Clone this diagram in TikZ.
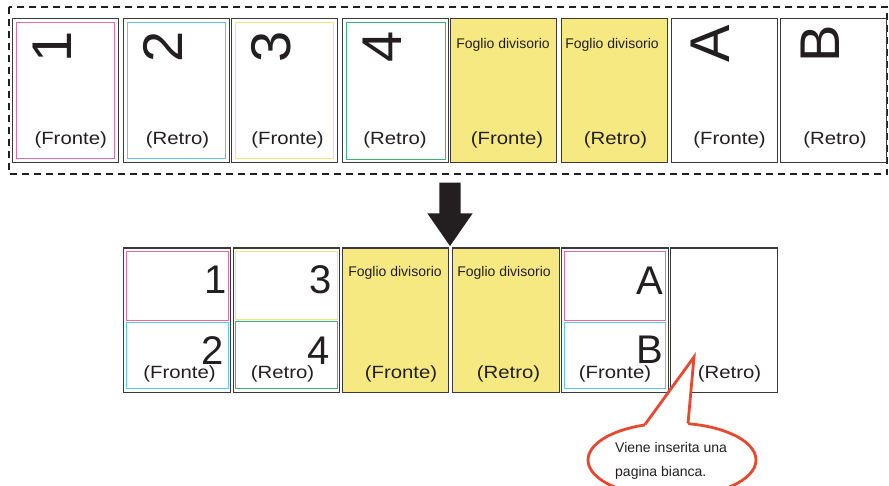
\documentclass[tikz,border=0pt]{standalone}
\usepackage{fontspec}
\setmainfont{Liberation Sans}
\newfontfamily\labfont[FakeStretch=1.15]{Liberation Sans}
\usetikzlibrary{shapes.geometric,calc}
\definecolor{pagegray}{HTML}{3A3A3A}
\definecolor{cpink}{HTML}{E96AA6}
\definecolor{ccyan}{HTML}{5CC8F0}
\definecolor{cyel}{HTML}{F1E780}
\definecolor{cgreen}{HTML}{3DB56E}
\definecolor{divfill}{HTML}{F6E981}
\definecolor{callred}{HTML}{E8482E}
\definecolor{arrowblk}{HTML}{231F20}
\tikzset{
  page/.style={draw=pagegray, line width=1.1pt, anchor=north west, minimum width=106pt, minimum height=144pt, inner sep=0pt, fill=white},
  divpage/.style={page, fill=divfill},
  innerbox/.style={draw=#1, line width=1.1pt, inner sep=0pt, anchor=north west},
  toplabel/.style={font=\labfont\fontsize{17.7}{20}\selectfont, anchor=base, inner sep=0pt, text=arrowblk},
  divlabel/.style={font=\fontsize{14}{16}\selectfont, anchor=base, inner sep=0pt, text=arrowblk},
  rotdigit/.style={font=\fontsize{56}{60}\selectfont, rotate=90, anchor=base west, inner sep=0pt, text=arrowblk},
  bigdigit/.style={font=\fontsize{40}{44}\selectfont, anchor=base east, inner sep=0pt, text=arrowblk},
  calltext/.style={font=\fontsize{14}{16}\selectfont, anchor=base west, inner sep=0pt, text=arrowblk},
}
\begin{document}
\begin{tikzpicture}[x=1pt,y=-1pt]
\useasboundingbox (0,0) rectangle (889,486);
\fill[white] (0,0) rectangle (889,486);
% dashed frame
\draw[arrowblk, line width=2pt, dash pattern=on 7pt off 5pt] (9,7) rectangle (887,174.5);
% ---------- top row ----------
\node[page] (t1) at (12.3,18.3) {};
\node[innerbox=cpink, minimum width=98pt, minimum height=136pt] (t1i) at (16.3,22.3) {};
\node[page] (t2) at (123.3,18.3) {};
\node[innerbox=ccyan, minimum width=98pt, minimum height=136pt] (t2i) at (127.3,22.3) {};
\node[page] (t3) at (231.3,18.3) {};
\node[innerbox=cyel, minimum width=98pt, minimum height=136pt] (t3i) at (235.3,22.3) {};
\node[page] (t4) at (342.3,18.3) {};
\node[innerbox=cgreen, minimum width=99pt, minimum height=137pt] (t4i) at (345.8,21.8) {};
\node[divpage] (t5) at (450.3,18.3) {};
\node[divpage] (t6) at (561,18.3) {};
\node[page] (t7) at (670.7,18.3) {};
\node[page] (t8) at (780,18.3) {};
% rotated big characters
\node[rotdigit] (d1) at (71.3,63) {1};
\node[rotdigit] (d2) at (182.3,63) {2};
\node[rotdigit] (d3) at (290.3,63) {3};
\node[rotdigit] (d4) at (401.3,63) {4};
\node[rotdigit] (dA) at (729.2,63) {A};
\node[rotdigit] (dB) at (839.5,63) {B};
% foglio divisorio
\node[divlabel] (f5) at (503,48.3) {Foglio divisorio};
\node[divlabel] (f6) at (612,48.3) {Foglio divisorio};
% labels
\node[toplabel] (l1) at (70.7,144.5) {(Fronte)};
\node[toplabel] (l2) at (177.5,144.5) {(Retro)};
\node[toplabel] (l3) at (287.5,144.5) {(Fronte)};
\node[toplabel] (l4) at (395,144.5) {(Retro)};
\node[toplabel] (l5) at (507,144.5) {(Fronte)};
\node[toplabel] (l6) at (615.5,144.5) {(Retro)};
\node[toplabel] (l7) at (729.5,144.5) {(Fronte)};
\node[toplabel] (l8) at (835,144.5) {(Retro)};
% ---------- big arrow ----------
\coordinate (atop) at (450,182.7);
\coordinate (atip) at (450,246);
\fill[arrowblk] ($(atop)+(-10.7,0)$) -- ($(atop)+(10.7,0)$) -- (460.7,213.3) -- (472.7,213.3) -- (atip) -- (427.3,213.3) -- (439.3,213.3) -- cycle;
% ---------- bottom row ----------
\node[page, minimum width=106.7pt] (b1) at (123.3,247.5) {};
\node[innerbox=cpink, minimum width=101.5pt, minimum height=69.3pt] (b1a) at (126,250.7) {};
\node[innerbox=ccyan, minimum width=101.5pt, minimum height=66.6pt] (b1b) at (126,321.7) {};
\node[page, minimum width=106.3pt] (b2) at (232.7,247.5) {};
\node[innerbox=cyel, minimum width=101.4pt, minimum height=68.6pt] (b2a) at (235.3,250.7) {};
\node[innerbox=cgreen, minimum width=101.4pt, minimum height=67.3pt] (b2b) at (235.3,321) {};
\node[divpage, minimum width=106pt] (b3) at (342.3,247.5) {};
\node[divpage, minimum width=106.7pt] (b4) at (452.3,247.5) {};
\node[page, minimum width=106.4pt] (b5) at (561.3,247.5) {};
\node[innerbox=cpink, minimum width=100.7pt, minimum height=69pt] (b5a) at (564,251) {};
\node[innerbox=ccyan, minimum width=100.7pt, minimum height=66.3pt] (b5b) at (564,322) {};
\node[page, minimum width=106.7pt] (b6) at (670,247.5) {};
% digits
\node[bigdigit] (e1) at (227.3,294) {1};
\node[bigdigit] (e2) at (223.5,364) {2};
\node[bigdigit] (e3) at (332,294) {3};
\node[bigdigit] (e4) at (329.5,364.5) {4};
\node[bigdigit] (eA) at (663.5,294.5) {A};
\node[bigdigit] (eB) at (663.5,363.5) {B};
% foglio divisorio
\node[divlabel] (g3) at (395,277) {Foglio divisorio};
\node[divlabel] (g4) at (504,277) {Foglio divisorio};
% labels
\node[toplabel] (m1) at (179.5,378.5) {(Fronte)};
\node[toplabel] (m2) at (282.5,378.5) {(Retro)};
\node[toplabel] (m3) at (401,378.5) {(Fronte)};
\node[toplabel] (m4) at (508.5,378.5) {(Retro)};
\node[toplabel] (m5) at (615,378.5) {(Fronte)};
\node[toplabel] (m6) at (729.5,378.5) {(Retro)};
% ---------- callout ----------
\node[ellipse, draw=callred, line width=2.8pt, fill=white, minimum width=168pt, minimum height=74pt, inner sep=0pt] (callout) at (672,460) {};
\coordinate (ptip) at (694,357);
\coordinate (pl) at (645,424.5);
\coordinate (pr) at (688,423.5);
\fill[white] (pl) -- (ptip) -- (pr) -- (688,433) -- (645,433) -- cycle;
\draw[callred, line width=2.8pt, line join=miter] (pl) -- (ptip) -- (pr);
\node[calltext] (c1) at (615,452) {Viene inserita una};
\node[calltext] (c2) at (615,476.5) {pagina bianca.};
\end{tikzpicture}
\end{document}
